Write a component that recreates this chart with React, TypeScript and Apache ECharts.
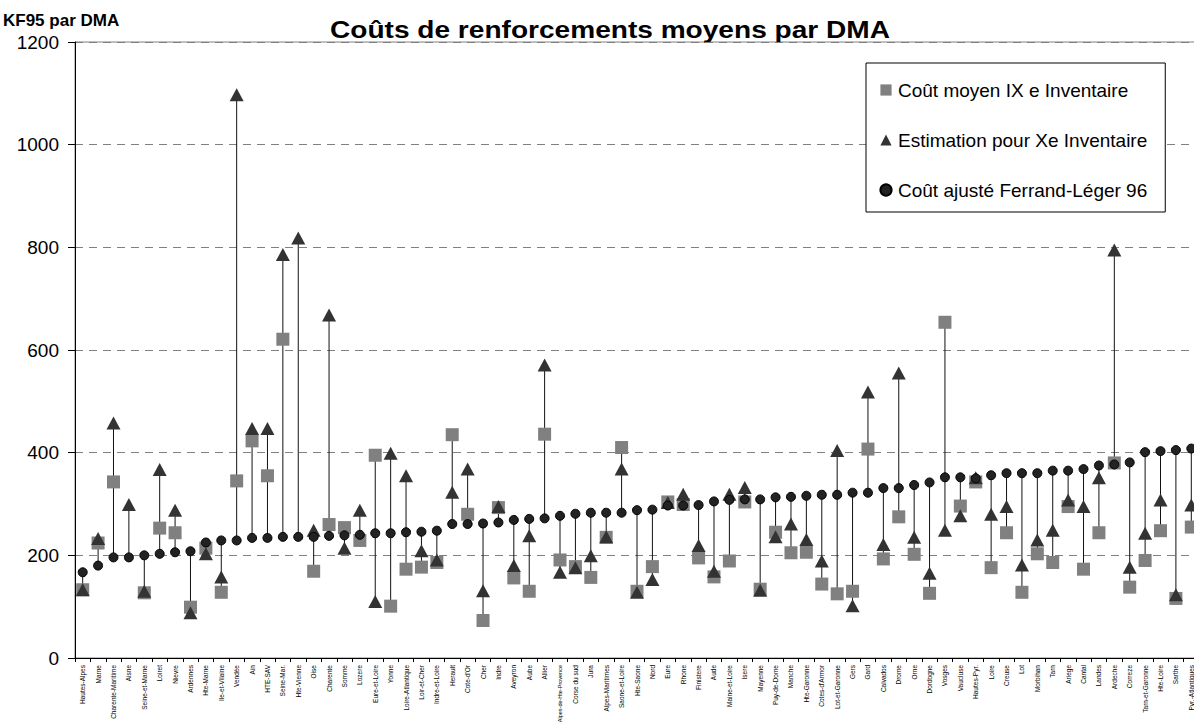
import React, { useEffect, useRef } from "react";
import * as echarts from "echarts";

const categories = [
  "Hautes-Alpes", "Marne", "Charente-Maritime", "Aisne", "Seine-et-Marne", "Loiret", "Nievre", "Ardennes",
  "Hte-Marne", "Ile-et-Vilaine", "Vendée", "Ain", "HTE-SAV", "Seine-Mar.", "Hte-Vienne", "Oise", "Charente",
  "Somme", "Lozere", "Eure-et-Loire", "Yonne", "Loire-Atlantique", "Loir-et-Cher", "Indre-et-Loire", "Herault",
  "Cote-d'Or", "Cher", "Indre", "Aveyron", "Aube", "Allier", "Alpes-de-Hte-Provence", "Corse du sud", "Jura",
  "Alpes-Maritimes", "Saone-et-Loire", "Hte-Saone", "Nord", "Eure", "Rhone", "Finistere", "Aude",
  "Maine-et-Loire", "Isere", "Mayenne", "Puy-de-Dome", "Manche", "Hte-Garonne", "Cotes-d'Armor",
  "Lot-et-Garonne", "Gers", "Gard", "Calvados", "Drome", "Orne", "Dordogne", "Vosges", "Vaucluse",
  "Hautes-Pyr.", "Loire", "Creuse", "Lot", "Morbihan", "Tarn", "Ariege", "Cantal", "Landes", "Ardeche",
  "Correze", "Tarn-et-Garonne", "Hte-Loire", "Sarthe", "Pyr.-Atlantiques",
];

// Coût moyen IX e Inventaire (squares)
const coutMoyen = [
  133, 224, 343, null, 127, 253, 244, 99, 214, 128, 345, 423, 355, 621, null, 169, 260, 254, 229, 395,
  101, 173, 177, 186, 435, 280, 73, 293, 156, 130, 436, 191, 178, 157, 235, 410, 130, 178, 304, 299,
  195, 158, 189, 304, 134, 245, 205, 206, 144, 125, 130, 407, 193, 275, 202, 126, 654, 296, 343, 176,
  244, 128, 203, 186, 295, 173, 244, 380, 138, 190, 248, 116, 255,
];

// Estimation pour Xe Inventaire (triangles)
const estimation = [
  133, 233, 458, 299, 130, 367, 288, 88, 203, 158, 1097, 447, 447, 786, 818, 249, 668, 214, 288, 110,
  399, 355, 209, 191, 323, 368, 131, 295, 180, 238, 571, 167, 176, 199, 236, 368, 128, 153, 303, 319,
  219, 169, 319, 332, 132, 236, 261, 231, 189, 404, 102, 518, 221, 555, 235, 165, 249, 277, 351, 280,
  295, 181, 230, 249, 308, 295, 351, 795, 177, 243, 308, 123, 298,
];

// Coût ajusté Ferrand-Léger 96 (circles)
const coutAjuste = [
  167, 180, 196, 196, 200, 203, 206, 208, 225, 229, 229, 234, 234, 236, 236, 236, 238, 239, 240, 243,
  243, 245, 246, 248, 261, 261, 262, 264, 269, 271, 272, 277, 281, 283, 283, 283, 288, 289, 297, 297,
  298, 305, 308, 309, 309, 313, 314, 316, 318, 318, 322, 322, 331, 331, 337, 342, 352, 352, 350, 356,
  360, 360, 360, 365, 365, 368, 375, 377, 381, 401, 403, 405, 408,
];

const yTicks = [0, 200, 400, 600, 800, 1000, 1200];

const FONT = "'Liberation Sans', Arial, sans-serif";

export default function App() {
  const ref = useRef<HTMLDivElement>(null);

  useEffect(() => {
    document.body.style.margin = "0";
    const chart = echarts.init(ref.current!, null, { renderer: "svg" });

    const hiLo = categories.map((_, i) => {
      const vals = [coutMoyen[i], estimation[i], coutAjuste[i]].filter(
        (v) => v !== null && v !== undefined
      ) as number[];
      return [i, Math.min(...vals), Math.max(...vals)];
    });

    chart.setOption({
      animation: false,
      backgroundColor: "#ffffff",
      textStyle: { fontFamily: FONT },
      title: [
        {
          text: "KF95 par DMA",
          left: 3,
          top: 12,
          padding: 0,
          textStyle: { fontFamily: FONT, fontSize: 17, fontWeight: "bold", color: "#000" },
        },
      ],
      graphic: [
        {
          type: "text",
          x: 330,
          y: 18,
          scaleX: 1.17,
          style: {
            text: "Coûts de renforcements moyens par DMA",
            font: "bold 24px 'Liberation Sans', Arial, sans-serif",
            fill: "#000",
          },
        },
      ],
      legend: {
        orient: "vertical",
        left: 866,
        top: 63,
        padding: [17, 18, 12, 13],
        itemGap: 30,
        itemWidth: 14,
        itemHeight: 14,
        backgroundColor: "#ffffff",
        borderColor: "#000000",
        borderWidth: 1,
        borderRadius: 0,
        data: ["Coût moyen IX e Inventaire", "Estimation pour Xe Inventaire", "Coût ajusté Ferrand-Léger 96"],
        textStyle: { fontFamily: FONT, fontSize: 19, color: "#000", lineHeight: 20 },
      },
      grid: {
        left: 75,
        top: 42,
        bottom: 66,
        right: -5,
        outerBoundsMode: "none",
        containLabel: false,
        show: true,
        borderColor: "#808080",
        borderWidth: 1,
        backgroundColor: "transparent",
      },
      xAxis: {
        type: "category",
        data: categories,
        boundaryGap: true,
        axisLine: { lineStyle: { color: "#000", width: 1 } },
        axisTick: { show: true, inside: false, length: 4, lineStyle: { color: "#000" } },
        axisLabel: {
          interval: 0,
          rotate: 90,
          fontSize: 6.5,
          fontFamily: FONT,
          color: "#000",
          margin: 7,
          formatter: (v: string) => (v.length > 18 ? "{s|" + v + "}" : v),
          rich: { s: { fontSize: 5.5, fontFamily: FONT, color: "#000" } },
        },
        splitLine: { show: false },
      },
      yAxis: {
        type: "value",
        min: 0,
        max: 1200,
        interval: 200,
        axisLine: { show: true, lineStyle: { color: "#000", width: 1 } },
        axisTick: { show: true, length: 7, lineStyle: { color: "#000" } },
        axisLabel: {
          fontSize: 19,
          fontFamily: FONT,
          color: "#000",
          margin: 16,
          formatter: (v: number) => (yTicks.includes(v) ? String(v) : ""),
        },
        splitLine: { show: true, lineStyle: { color: "#808080", type: [8, 6], width: 1 } },
      },
      series: [
        {
          type: "custom",
          name: "hilo",
          silent: true,
          z: 1,
          data: hiLo,
          encode: { x: 0, y: [1, 2] },
          renderItem: (_params: any, api: any) => {
            const x = api.value(0);
            const p1 = api.coord([x, api.value(1)]);
            const p2 = api.coord([x, api.value(2)]);
            return {
              type: "line",
              shape: { x1: p1[0], y1: p1[1], x2: p2[0], y2: p2[1] },
              style: { stroke: "#111", lineWidth: 1 },
            };
          },
        },
        {
          type: "line",
          name: "Coût moyen IX e Inventaire",
          data: coutMoyen,
          z: 2,
          symbol: "rect",
          symbolSize: 13,
          lineStyle: { width: 0, opacity: 0 },
          itemStyle: { color: "#808080" },
          connectNulls: false,
        },
        {
          type: "line",
          name: "Estimation pour Xe Inventaire",
          data: estimation,
          z: 3,
          symbol: "triangle",
          symbolSize: [14, 13],
          lineStyle: { width: 0, opacity: 0 },
          itemStyle: { color: "#333333" },
        },
        {
          type: "line",
          name: "Coût ajusté Ferrand-Léger 96",
          data: coutAjuste,
          z: 4,
          symbol: "circle",
          symbolSize: 9,
          lineStyle: { width: 0, opacity: 0 },
          itemStyle: { color: "#222222", borderColor: "#000000", borderWidth: 1 },
        },
      ],
    });

    return () => chart.dispose();
  }, []);

  return (
    <div
      ref={ref}
      style={{ position: "fixed", left: 0, top: 0, width: 1194, height: 724, background: "#fff" }}
    />
  );
}
